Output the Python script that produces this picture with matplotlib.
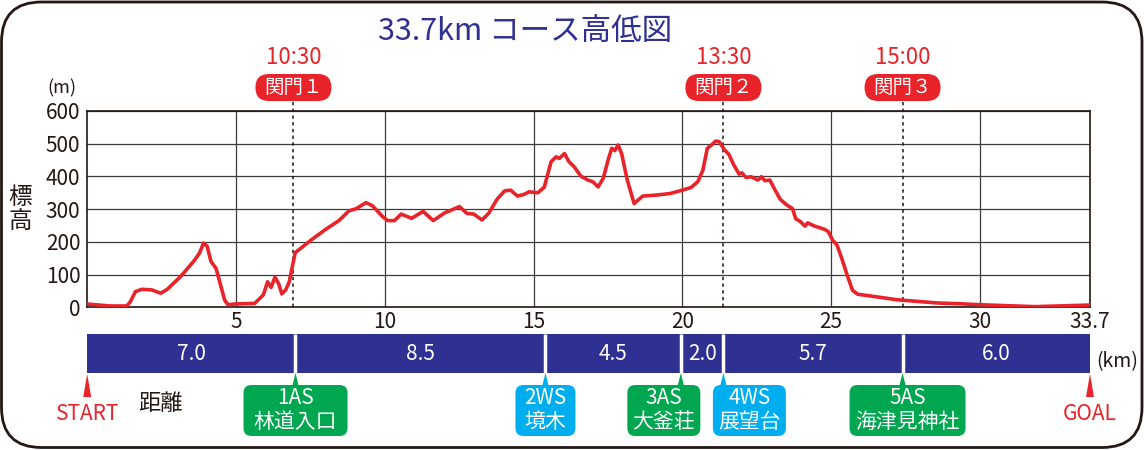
import matplotlib

matplotlib.use("Agg")
import matplotlib.pyplot as plt
import numpy as np
from matplotlib.patches import FancyBboxPatch, Polygon

plt.rcParams["font.family"] = ["Noto Sans CJK JP", "DejaVu Sans"]

# elevation profile (km, m)
dist_km = [0.0, 0.77, 1.33, 1.45, 1.62, 1.84, 2.18, 2.47, 2.69, 3.14,
           3.60, 3.77, 3.91, 4.03, 4.16, 4.33, 4.62, 4.73, 4.95, 5.63,
           5.92, 6.06, 6.18, 6.31, 6.43, 6.54, 6.67, 6.79, 6.99, 7.56,
           8.01, 8.46, 8.80, 9.03, 9.37, 9.59, 9.93, 10.10, 10.33, 10.55,
           10.90, 11.29, 11.63, 12.02, 12.31, 12.51, 12.76, 12.99, 13.27, 13.49,
           13.78, 14.03, 14.23, 14.46, 14.68, 14.85, 15.14, 15.36, 15.59, 15.76,
           15.87, 16.04, 16.19, 16.36, 16.59, 16.82, 16.99, 17.17, 17.34, 17.52,
           17.63, 17.73, 17.84, 17.96, 18.15, 18.38, 18.67, 19.13, 19.60, 20.0,
           20.29, 20.52, 20.69, 20.84, 20.98, 21.12, 21.24, 21.42, 21.56, 21.73,
           21.91, 22.0, 22.14, 22.31, 22.54, 22.66, 22.77, 22.94, 23.12, 23.29,
           23.52, 23.70, 23.81, 23.98, 24.12, 24.21, 24.45, 24.79, 24.91, 25.05,
           25.20, 25.37, 25.54, 25.72, 25.89, 26.29, 26.76, 27.22, 27.91, 28.60,
           29.30, 29.99, 30.91, 31.84, 32.64, 33.7]
elev_m = [10, 4, 4, 17, 48, 55, 53, 43, 55, 94,
          143, 165, 196, 187, 140, 119, 22, 8, 10, 12,
          38, 78, 61, 92, 73, 41, 53, 78, 167, 208,
          238, 265, 295, 301, 320, 310, 277, 265, 265, 285,
          272, 293, 265, 289, 300, 308, 287, 285, 267, 287,
          331, 356, 358, 340, 345, 353, 350, 367, 445, 460,
          455, 470, 445, 430, 401, 389, 384, 368, 394, 455,
          486, 479, 496, 470, 389, 317, 340, 343, 348, 358,
          366, 384, 419, 486, 496, 508, 506, 481, 468, 435,
          407, 411, 397, 399, 389, 399, 387, 389, 358, 330,
          312, 302, 271, 261, 248, 258, 248, 238, 231, 205,
          190, 146, 98, 52, 40, 35, 29, 23, 18, 13,
          11, 8, 5, 2, 4, 7]

xtick_vals = [5, 10, 15, 20, 25, 30, 33.7]
xtick_labels = ["5", "10", "15", "20", "25", "30", "33.7"]
ytick_vals = [0, 100, 200, 300, 400, 500, 600]

# cut-off gates
gate_km = [6.93, 21.38, 27.4]
gate_times = ["10:30", "13:30", "15:00"]
gate_names = ["関門１", "関門２", "関門３"]

# distance bar
section_edges = [0.0, 7.0, 15.4, 19.95, 21.38, 27.4, 33.7]
section_labels = ["7.0", "8.5", "4.5", "2.0", "5.7", "6.0"]

# aid / water stations
station_km = [7.0, 15.4, 19.95, 21.38, 27.4]
station_codes = ["1AS", "2WS", "3AS", "4WS", "5AS"]
station_names = ["林道入口", "境木", "大釜荘", "展望台", "海津見神社"]
station_kinds = ["AS", "WS", "AS", "WS", "AS"]

# layout (pixels)
W, H = 1144, 450
PL, PR, PT, PB = 87.2, 1090.0, 111.0, 307.3
KM_MAX = 33.7
PX = (PR - PL) / KM_MAX
BAR_TOP, BAR_BOT = 334, 373
BOX_TOP, BOX_BOT = 385, 436
box_width_px = [104, 60, 73, 73, 116]
box_shift_px = [0, 0, -17, 26, 5]

NAVY = "#2E3192"
RED = "#E8232A"
GREEN = "#00A650"
CYAN = "#00AEEF"
INK = "#231815"


def frac(left, top, right, bottom):
    return [left / W, 1 - bottom / H, (right - left) / W, (bottom - top) / H]


fig = plt.figure(figsize=(W / 100, H / 100), dpi=100)

# elevation plot
ax = fig.add_axes(frac(PL, PT, PR, PB))
ax.plot(dist_km, elev_m, color=RED, lw=2.6, solid_joinstyle="round", zorder=3)
ax.set_xlim(0, KM_MAX)
ax.set_ylim(0, 600)
ax.set_xticks(xtick_vals, xtick_labels)
ax.set_yticks(ytick_vals)
ax.tick_params(length=0, labelsize=15, labelcolor=INK)
ax.tick_params(axis="y", pad=5)
ax.tick_params(axis="x", pad=3)
ax.grid(color="#3a3a3a", lw=0.9)
for s in ax.spines.values():
    s.set_linewidth(1.2)
    s.set_color(INK)

for g in gate_km:
    ax.axvline(g, ymin=0, ymax=1 + 10 / (PB - PT), color=INK, lw=1.1,
               ls=(0, (2.2, 2.2)), clip_on=False, zorder=2)

# gate labels
axg = fig.add_axes(frac(PL, 40, PR, PT))
axg.set_xlim(0, KM_MAX)
axg.set_ylim(PT, 40)
axg.axis("off")
for g, t, name in zip(gate_km, gate_times, gate_names):
    axg.text(g, 58, t, ha="center", va="center", color=RED, fontsize=16)
    axg.add_patch(FancyBboxPatch((g - 38 / PX, 74), 76 / PX, 27,
                                 boxstyle=f"round,pad=0,rounding_size={13.5 / PX}",
                                 mutation_aspect=PX, fc=RED, ec="none", clip_on=False))
    axg.text(g, 87.5, name, ha="center", va="center", color="white", fontsize=14)

# distance bar and stations
axb = fig.add_axes(frac(PL, BAR_TOP, PR, 447))
axb.set_xlim(0, KM_MAX)
axb.set_ylim(447, BAR_TOP)
axb.axis("off")
lefts = np.array(section_edges[:-1])
widths = np.diff(section_edges)
axb.barh((BAR_TOP + BAR_BOT) / 2, widths, left=lefts, height=BAR_BOT - BAR_TOP,
         color=NAVY, edgecolor="none")
axb.vlines(section_edges[1:-1], BAR_TOP, BAR_BOT, color="white", lw=2.5)
for l, w, lab in zip(lefts, widths, section_labels):
    axb.text(l + w / 2, (BAR_TOP + BAR_BOT) / 2 + 1, lab, ha="center", va="center",
             color="white", fontsize=15)

for x, code, name, kind, bw, sh in zip(station_km, station_codes, station_names,
                                       station_kinds, box_width_px, box_shift_px):
    c = GREEN if kind == "AS" else CYAN
    axb.add_patch(Polygon([(x, BAR_BOT), (x - 3.5 / PX, BOX_TOP + 2), (x + 3.5 / PX, BOX_TOP + 2)],
                          closed=True, fc=c, ec="none"))
    cx = x + sh / PX
    axb.add_patch(FancyBboxPatch((cx - bw / 2 / PX, BOX_TOP), bw / PX, BOX_BOT - BOX_TOP,
                                 boxstyle=f"round,pad=0,rounding_size={8 / PX}",
                                 mutation_aspect=PX, fc=c, ec="none"))
    axb.text(cx, 398, code, ha="center", va="center", color="white", fontsize=15)
    axb.text(cx, 422, name, ha="center", va="center", color="white", fontsize=15)

for x, lab in [(0.0, "START"), (KM_MAX, "GOAL")]:
    axb.add_patch(Polygon([(x, BAR_BOT + 1), (x - 4 / PX, 397), (x + 4 / PX, 397)],
                          closed=True, fc=RED, ec="none", clip_on=False))
    axb.text(x, 414, lab, ha="center", va="center", color=RED, fontsize=15, clip_on=False)

# free labels and frame
ov = fig.add_axes([0, 0, 1, 1])
ov.set_xlim(0, W)
ov.set_ylim(H, 0)
ov.axis("off")
ov.text(525, 32, "33.7km コース高低図", ha="center", va="center", color=NAVY, fontsize=22)
ov.text(62, 88, "(m)", ha="center", va="center", color=INK, fontsize=13)
ov.text(20, 197, "標", ha="center", va="center", color=INK, fontsize=17)
ov.text(20, 222, "高", ha="center", va="center", color=INK, fontsize=17)
ov.text(1117, 362, "(km)", ha="center", va="center", color=INK, fontsize=14)
ov.text(160, 403, "距離", ha="center", va="center", color=INK, fontsize=16)
ov.add_patch(FancyBboxPatch((1.5, 2), W - 3.5, H - 4.5,
                            boxstyle="round,pad=0,rounding_size=40",
                            fc="none", ec=INK, lw=2))

fig.savefig("out.png", dpi=100)
